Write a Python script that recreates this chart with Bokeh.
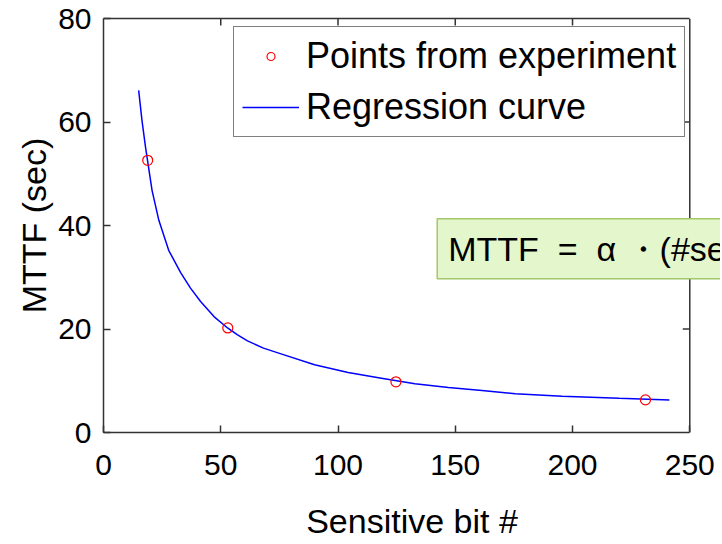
import numpy as np
from bokeh.plotting import figure
from bokeh.models import Range1d, LinearAxis, FixedTicker, Label, Span
from bokeh.embed import file_html
from bokeh.resources import INLINE

# ---- data ----
x_ticks = [0, 50, 100, 150, 200, 250]
y_ticks = [0, 20, 40, 60, 80]

exp_bits = [18.85, 53.0, 124.7, 231.1]
exp_mttf = [52.6, 20.2, 9.8, 6.3]

curve_bits = [15.0, 16.4, 17.9, 20.7, 23.6, 27.8, 32.9, 37.1, 41.4, 47.1, 52.9,
              57.0, 61.4, 68.2, 75.7, 90.0, 104.3, 118.5, 132.8, 147.1, 161.4,
              175.6, 195.6, 219.9, 241.3]
curve_mttf = [66.1, 60.3, 55.2, 46.8, 41.0, 35.2, 30.9, 27.9, 25.3, 22.4, 20.2,
              18.9, 17.7, 16.3, 15.2, 13.1, 11.6, 10.5, 9.4, 8.7, 8.1,
              7.5, 7.0, 6.6, 6.3]

formula_text = "MTTF \u00a0= \u00a0α ・(#sensitive bits)^β"

FONT = "Liberation Sans"
AX = "#333333"

p = figure(width=720, height=542, output_backend="svg", toolbar_location=None,
           x_range=Range1d(0, 263.1), y_range=Range1d(0, 80),
           min_border_left=103, min_border_right=0, min_border_top=18,
           min_border_bottom=110,
           x_axis_label="Sensitive bit #", y_axis_label="MTTF (sec)")
p.background_fill_color = "white"
p.border_fill_color = "white"
p.grid.visible = False
p.outline_line_color = None

p.xaxis.ticker = FixedTicker(ticks=x_ticks)
p.yaxis.ticker = FixedTicker(ticks=y_ticks)


def style(ax):
    ax.axis_line_color = AX
    ax.axis_line_width = 1.5
    ax.major_tick_line_color = AX
    ax.major_tick_line_width = 1.5
    ax.major_tick_in = 7
    ax.major_tick_out = 0
    ax.minor_tick_line_color = None
    ax.major_label_text_font = FONT
    ax.major_label_text_color = "black"
    ax.major_label_text_font_size = "30px"
    ax.axis_label_text_font = FONT
    ax.axis_label_text_font_style = "normal"
    ax.axis_label_text_color = "black"
    ax.axis_label_text_font_size = "34px"


for ax in p.xaxis:
    style(ax)
    ax.bounds = (x_ticks[0], x_ticks[-1])
    ax.major_label_standoff = 22
    ax.axis_label_standoff = 24
for ax in p.yaxis:
    style(ax)
    ax.major_label_standoff = 12
    ax.axis_label_standoff = 2

# top border of the axes box (line only)
top = LinearAxis(ticker=FixedTicker(ticks=[]), bounds=(x_ticks[0], x_ticks[-1]),
                 axis_line_color=AX, axis_line_width=1.5,
                 major_tick_line_color=None, minor_tick_line_color=None,
                 major_label_standoff=0)
p.add_layout(top, "above")

# right border of the axes box
right_border = Span(location=x_ticks[-1], dimension="height",
                    line_color=AX, line_width=1.5)
p.add_layout(right_border)

# inward ticks on top and right sides
inner_x = x_ticks[1:-1]
inner_y = y_ticks[1:-1]
p.ray(x=inner_x, y=[y_ticks[-1]] * len(inner_x), length=7,
      length_units="screen", angle=-np.pi / 2, line_color=AX, line_width=1.5)
p.ray(x=[x_ticks[-1]] * len(inner_y), y=inner_y, length=7,
      length_units="screen", angle=np.pi, line_color=AX, line_width=1.5)

p.line(curve_bits, curve_mttf, line_color="#0000ff", line_width=1.5,
       legend_label="Regression curve")
p.scatter(exp_bits, exp_mttf, marker="circle", size=10, fill_color=None,
          line_color="#ff0000", line_width=1.2,
          legend_label="Points from experiment")

leg = p.legend[0]
leg.items = [leg.items[1], leg.items[0]]
leg.location = (130, 295)
leg.padding = 8
leg.spacing = 9
leg.glyph_width = 57
leg.glyph_height = 20
leg.label_standoff = 7
leg.label_text_font = FONT
leg.label_text_font_size = "36px"
leg.label_text_color = "black"
leg.border_line_color = "black"
leg.border_line_width = 1
leg.background_fill_color = "white"
leg.background_fill_alpha = 1

shadow = Label(x=142.3, y=41.3, anchor="top_left", text=formula_text,
               text_font=FONT, text_font_size="34px", text_alpha=0,
               padding=11, y_offset=-4,
               background_fill_color="#b4b4b4", background_fill_alpha=0.8)
box = Label(x=142.3, y=41.3, anchor="top_left", text=formula_text,
            text_font=FONT, text_font_size="34px", text_color="black",
            padding=11,
            background_fill_color="#e4f6cb", background_fill_alpha=1,
            border_line_color="#a3c76a", border_line_width=1.5)
p.add_layout(shadow)
p.add_layout(box)

open("out.html", "w").write(file_html(p, INLINE))
